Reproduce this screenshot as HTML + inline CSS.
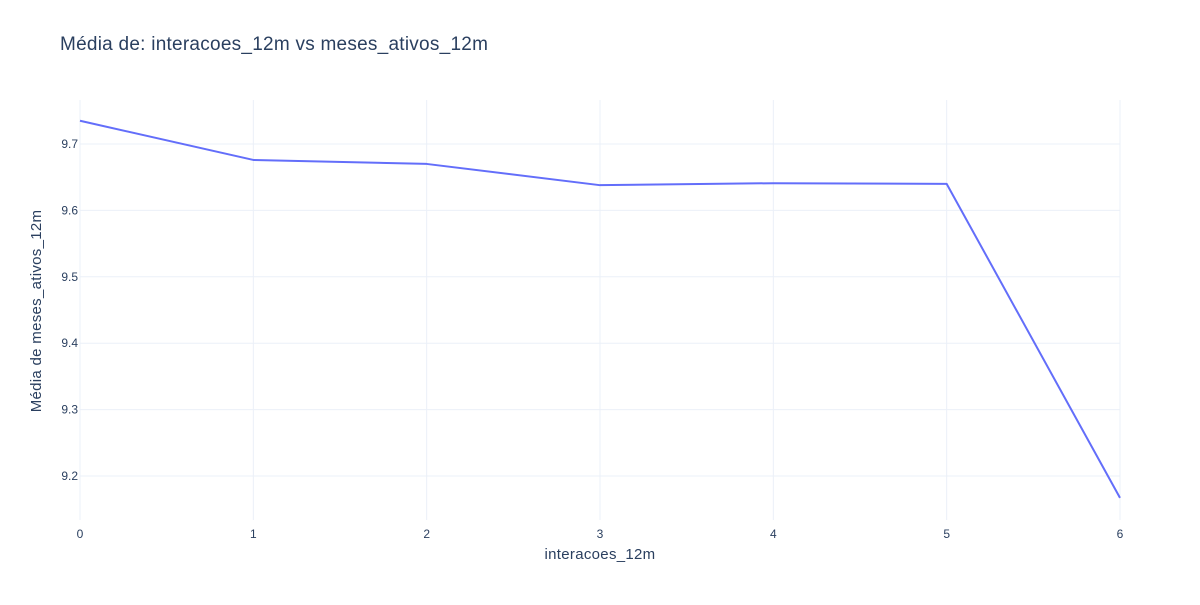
<!DOCTYPE html>
<html><head><meta charset="utf-8"><style>
body{margin:0;background:#fff;font-family:"Liberation Sans",Arial,sans-serif}
svg text{font-family:"Liberation Sans",Arial,sans-serif;fill:#2a3f5f}
</style></head><body>
<svg id="chart" width="1200" height="600">
<rect width="1200" height="600" fill="#fff"/>
<text x="60" y="50" font-size="19" letter-spacing="0.25">Média de: interacoes_12m vs meses_ativos_12m</text>
<g id="grid"></g><g id="ticks"></g>
<text x="600" y="559" font-size="15" letter-spacing="0.3" text-anchor="middle">interacoes_12m</text>
<text x="0" y="0" font-size="15" letter-spacing="0.3" text-anchor="middle" transform="translate(41,311) rotate(-90)">Média de meses_ativos_12m</text>
<g id="series"></g>
</svg>
<script>
const categories=[0,1,2,3,4,5,6];
const values=[9.735,9.676,9.670,9.638,9.641,9.640,9.167];
const xTicks=[0,1,2,3,4,5,6];
const yTicks=[9.2,9.3,9.4,9.5,9.6,9.7];
const L=80,R=1120,T=100,B=520,ymin=9.1337,ymax=9.7663;
const xs=v=>L+(v-0)/6*(R-L);
const ys=v=>B-(v-ymin)/(ymax-ymin)*(B-T);
const NS="http://www.w3.org/2000/svg";
const grid=document.getElementById('grid'),ticks=document.getElementById('ticks'),series=document.getElementById('series');
function mk(t,a,p){const e=document.createElementNS(NS,t);for(const k in a)e.setAttribute(k,a[k]);p.appendChild(e);return e;}
xTicks.forEach(v=>{
 const l=mk('line',{x1:xs(v),x2:xs(v),y1:T,y2:B,stroke:'#ebf0f8','stroke-width':1},grid);
 
 
 const t=mk('text',{x:xs(v),y:B+18,'font-size':12,'text-anchor':'middle'},ticks);t.textContent=v;
 
 
});
yTicks.forEach(v=>{
 const l=mk('line',{x1:L,x2:R,y1:ys(v),y2:ys(v),stroke:'#ebf0f8','stroke-width':1},grid);
 
 
 const t=mk('text',{x:L-2,y:ys(v)+4,'font-size':12,'text-anchor':'end'},ticks);t.textContent=v.toFixed(1);
 
 
});
const p=mk('polyline',{points:categories.map((c,i)=>xs(c)+','+ys(values[i])).join(' '),fill:'none',stroke:'#636efa','stroke-width':2,'stroke-linejoin':'round'},series);


</script>
</body></html>
